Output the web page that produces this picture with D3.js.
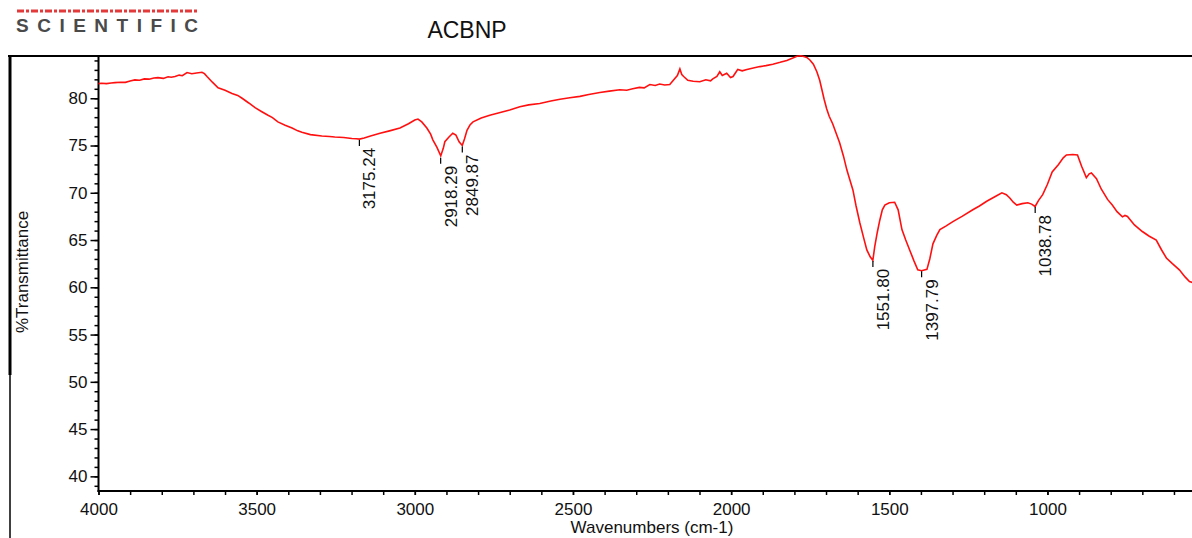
<!DOCTYPE html>
<html>
<head>
<meta charset="utf-8">
<script src="https://cdn.jsdelivr.net/npm/d3@7"></script>
<style>
  body { margin: 0; background: #fff; }
  svg text { font-family: "Liberation Sans", Arial, sans-serif; fill: #111; }
</style>
</head>
<body>
<div id="chart"></div>
<script>
// spectrum
const wavenumbers = [
  4000, 3990, 3975, 3960, 3948, 3930, 3915, 3900, 3885, 3870, 3855, 3840, 3825, 3812, 3795, 3780, 3770, 3758,
  3745, 3735, 3720, 3705, 3690, 3673, 3665, 3657, 3640, 3622, 3600, 3578, 3560, 3546, 3525, 3505, 3485, 3464,
  3450, 3433, 3410, 3388, 3370, 3357, 3330, 3294, 3270, 3253, 3225, 3199, 3185, 3175, 3160, 3140, 3110, 3080,
  3047, 3020, 3000, 2990, 2978, 2962, 2950, 2943, 2930, 2918, 2910, 2905, 2892, 2880, 2870, 2860, 2850, 2843,
  2835, 2825, 2816, 2790, 2763, 2730, 2700, 2668, 2640, 2605, 2570, 2541, 2510, 2478, 2450, 2415, 2385, 2352,
  2330, 2311, 2290, 2275, 2257, 2240, 2226, 2210, 2194, 2180, 2170, 2162, 2156, 2150, 2137, 2120, 2099, 2080,
  2065, 2058, 2045, 2036, 2028, 2014, 2002, 1994, 1985, 1979, 1965, 1950, 1930, 1909, 1890, 1868, 1845, 1824,
  1805, 1792, 1780, 1773, 1760, 1751, 1740, 1729, 1720, 1713, 1706, 1698, 1690, 1679, 1668, 1657, 1645, 1634, 1625,
  1615, 1605, 1593, 1580, 1571, 1560, 1552, 1546, 1538, 1530, 1522, 1514, 1500, 1483, 1472, 1460, 1448, 1435,
  1422, 1410, 1398, 1381, 1372, 1362, 1350, 1340, 1320, 1299, 1270, 1236, 1215, 1192, 1165, 1144, 1130, 1119,
  1108, 1097, 1080, 1062, 1050, 1039, 1028, 1015, 1000, 985, 965, 950, 940, 920, 905, 892, 877, 868,
  861, 845, 830, 810, 795, 780, 763, 755, 747, 725, 700, 678, 656, 640, 624, 605, 583, 565,
  551, 540
];
const transmittance = [
  81.55, 81.58, 81.55, 81.62, 81.65, 81.7, 81.68, 81.82, 81.94, 81.9, 82.05, 82.02, 82.15, 82.18, 82.1, 82.28, 82.22, 82.3,
  82.45, 82.38, 82.72, 82.6, 82.68, 82.75, 82.6, 82.3, 81.7, 81.1, 80.85, 80.5, 80.3, 80.0, 79.5, 79.0, 78.6, 78.2,
  77.95, 77.5, 77.15, 76.85, 76.55, 76.4, 76.15, 76.0, 75.95, 75.9, 75.85, 75.75, 75.72, 75.68, 75.8, 76.0, 76.3, 76.55,
  76.85, 77.3, 77.7, 77.8, 77.5, 76.85, 76.2, 75.6, 74.8, 73.9, 74.7, 75.4, 75.9, 76.3, 76.1, 75.4, 75.0, 75.7,
  76.6, 77.2, 77.5, 77.9, 78.2, 78.5, 78.75, 79.1, 79.3, 79.45, 79.7, 79.9, 80.05, 80.2, 80.4, 80.6, 80.75, 80.9,
  80.85, 81.0, 81.15, 81.1, 81.45, 81.35, 81.5, 81.4, 81.45, 82.0, 82.4, 83.1, 82.5, 82.3, 81.9, 81.8, 81.75, 81.95,
  81.85, 82.05, 82.3, 82.8, 82.4, 82.65, 82.2, 82.3, 82.75, 83.05, 82.9, 83.05, 83.2, 83.35, 83.45, 83.6, 83.8, 84.0,
  84.25, 84.45, 84.5, 84.45, 84.3, 84.05, 83.6, 82.8, 81.9, 80.9, 79.9, 78.9, 78.1, 77.3, 76.3, 75.3, 73.9, 72.4, 71.4,
  70.3, 68.6, 66.8, 65.1, 63.95, 63.2, 62.85, 64.3, 65.8, 67.1, 68.2, 68.7, 68.95, 69.0, 68.2, 66.1, 65.0, 63.9,
  62.8, 61.85, 61.75, 61.9, 63.0, 64.6, 65.5, 66.1, 66.5, 66.95, 67.5, 68.2, 68.6, 69.1, 69.6, 70.0, 69.8, 69.45,
  69.0, 68.7, 68.85, 68.95, 68.8, 68.55, 69.2, 69.8, 70.9, 72.2, 73.0, 73.7, 74.0, 74.05, 74.0, 72.8, 71.6, 72.0,
  72.1, 71.5, 70.4, 69.3, 68.7, 68.0, 67.45, 67.6, 67.5, 66.6, 65.9, 65.4, 65.0, 64.0, 63.1, 62.5, 61.85, 61.1,
  60.6, 60.5
];

// labelled peaks
const peakWn = [3175.24, 2918.29, 2849.87, 1551.80, 1397.79, 1038.78];
const peakT = [75.7, 73.8, 75.0, 62.9, 61.8, 68.6];
const peakLabels = ["3175.24", "2918.29", "2849.87", "1551.80", "1397.79", "1038.78"];

const xTicks = [4000, 3500, 3000, 2500, 2000, 1500, 1000];
const yTicks = [40, 45, 50, 55, 60, 65, 70, 75, 80];

const W = 1192, H = 538;
const plotL = 98.5, plotR = 1192, plotT = 56, plotB = 491;

const svg = d3.select("#chart").append("svg")
  .attr("width", W)
  .attr("height", H);

const x = d3.scaleLinear().domain([4000, 543]).range([plotL, plotR]);
const y = d3.scaleLinear().domain([38.45, 84.47]).range([plotB, plotT]);

// logo + title
svg.append("line")
  .attr("x1", 17).attr("x2", 197).attr("y1", 11).attr("y2", 11)
  .attr("stroke", "#e23a3a").attr("stroke-width", 3)
  .attr("stroke-dasharray", "7,2,3,2");
svg.append("text")
  .attr("x", 16).attr("y", 32)
  .style("font-size", "19px").style("font-weight", "bold")
  .style("letter-spacing", "8.5px").style("fill", "#4a4a4a")
  .text("SCIENTIFIC");
svg.append("text")
  .attr("x", 467).attr("y", 38)
  .attr("text-anchor", "middle")
  .style("font-size", "23px")
  .text("ACBNP");

// outer frame
svg.append("line")
  .attr("x1", 8).attr("x2", W).attr("y1", plotT).attr("y2", plotT)
  .attr("stroke", "#000").attr("stroke-width", 2);
svg.append("line")
  .attr("x1", 10).attr("x2", 10).attr("y1", plotT).attr("y2", 375)
  .attr("stroke", "#000").attr("stroke-width", 3);
svg.append("line")
  .attr("x1", 10).attr("x2", 10).attr("y1", 375).attr("y2", H)
  .attr("stroke", "#000").attr("stroke-width", 1.5);

// axes
const yMinor = d3.range(39, 85, 1);
const xMinor = d3.range(600, 4001, 100);

const yAxis = svg.append("g").attr("transform", `translate(${plotL},0)`);
yAxis.call(d3.axisLeft(y).tickValues(yMinor).tickSize(4).tickFormat(""));
yAxis.append("g").call(d3.axisLeft(y).tickValues(yTicks).tickSize(8).tickPadding(3).tickFormat(d3.format("d")));
yAxis.selectAll(".domain").remove();

const xAxis = svg.append("g").attr("transform", `translate(0,${plotB})`);
xAxis.call(d3.axisBottom(x).tickValues(xMinor).tickSize(4).tickFormat(""));
xAxis.append("g").call(d3.axisBottom(x).tickValues(xTicks).tickSize(4).tickPadding(8).tickFormat(d3.format("d")));
xAxis.selectAll(".domain").remove();

svg.selectAll(".tick line").attr("stroke", "#000").attr("stroke-width", 1.5);
svg.selectAll(".tick text")
  .style("font-size", "17px")
  .style("font-family", "'Liberation Sans', Arial, sans-serif")
  .attr("fill", "#111");

svg.append("line")
  .attr("x1", plotL).attr("x2", plotL).attr("y1", plotT).attr("y2", plotB + 1)
  .attr("stroke", "#000").attr("stroke-width", 2);
svg.append("line")
  .attr("x1", plotL - 1).attr("x2", W).attr("y1", plotB).attr("y2", plotB)
  .attr("stroke", "#000").attr("stroke-width", 2);

// axis titles
svg.append("text")
  .attr("transform", `translate(28,272) rotate(-90)`)
  .attr("text-anchor", "middle")
  .style("font-size", "17px")
  .text("%Transmittance");
svg.append("text")
  .attr("x", 652).attr("y", 533)
  .attr("text-anchor", "middle")
  .style("font-size", "17px")
  .text("Wavenumbers (cm-1)");

// spectrum line
const pts = wavenumbers.map((w, i) => [w, transmittance[i]]);
svg.append("path")
  .datum(pts)
  .attr("fill", "none")
  .attr("stroke", "#ff1010")
  .attr("stroke-width", 1.6)
  .attr("d", d3.line().x((d) => x(d[0])).y((d) => y(d[1])));

// peak markers
const peaks = svg.append("g").selectAll("g")
  .data(peakWn.map((w, i) => ({ w, t: peakT[i], label: peakLabels[i] })))
  .join("g")
  .attr("transform", (d) => `translate(${x(d.w)},${y(d.t)})`);
peaks.append("line")
  .attr("y1", 1).attr("y2", 7)
  .attr("stroke", "#000").attr("stroke-width", 1.2);
peaks.append("text")
  .attr("transform", "translate(16,9) rotate(-90)")
  .attr("text-anchor", "end")
  .style("font-size", "17px")
  .text((d) => d.label);
</script>
</body>
</html>
